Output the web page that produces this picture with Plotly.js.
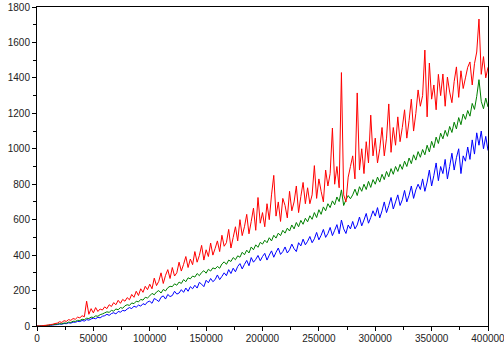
<!DOCTYPE html>
<html>
<head>
<meta charset="utf-8">
<script src="https://cdn.plot.ly/plotly-3.0.1.min.js"></script>
<style>
  html, body { margin: 0; padding: 0; background: #ffffff; }
  #chart { width: 504px; height: 344px; }
</style>
</head>
<body>
<div id="chart"></div>
<script>
// x grid: samples every 2000, starting at 0
const xStart = 0;
const xStep = 2000;

const blueValues = [
  0,0,1,1,2,3,4,6,7,8,
  11,10,14,13,18,16,22,21,26,25,
  31,28,36,33,40,44,41,49,46,55,
  58,66,60,70,75,68,82,78,88,85,
  96,104,98,112,106,118,112,126,120,136,
  140,128,155,148,138,162,170,152,178,166,
  172,196,180,186,205,190,214,196,222,210,
  230,214,246,236,222,258,244,268,250,262,
  288,262,280,300,284,318,296,326,306,336,
  352,322,348,370,340,386,360,376,398,368,
  392,410,372,400,424,388,416,440,404,420,
  446,412,430,462,436,420,470,452,490,458,
  478,505,470,492,528,486,512,545,500,522,
  556,510,540,572,520,598,548,522,570,548,
  590,548,570,615,565,598,635,580,612,650,
  620,668,610,650,700,640,680,725,660,700,
  740,680,712,765,700,738,790,720,768,800,
  770,830,760,812,880,790,850,920,820,900,
  860,940,830,900,975,880,950,1000,860,960,
  930,1010,940,1050,970,1090,1020,1100,1000,1070,990
];

const greenValues = [
  0,0,1,2,3,4,6,7,9,11,
  13,12,17,16,22,20,27,26,32,31,
  38,36,44,42,50,48,57,55,64,68,
  74,80,77,88,84,96,92,104,100,114,
  120,116,130,126,140,136,150,146,162,158,
  170,184,176,192,200,186,206,198,216,224,
  222,238,230,248,240,262,250,272,266,282,
  276,296,284,302,312,298,320,310,328,322,
  336,326,350,362,348,372,364,386,374,396,
  388,416,402,428,412,446,430,458,444,472,
  462,484,470,498,480,512,496,524,510,540,
  524,552,536,570,548,584,560,596,574,608,
  588,622,602,640,612,656,630,672,650,690,
  668,706,684,728,702,768,680,712,736,718,
  740,772,736,786,760,800,770,816,782,826,
  800,840,812,856,826,872,842,888,856,900,
  872,912,884,930,900,948,916,966,936,984,
  952,996,966,1020,982,1042,1006,1066,1030,1088,
  1056,1104,1070,1126,1092,1150,1112,1176,1136,1196,
  1166,1216,1184,1256,1222,1296,1390,1268,1226,1286,1236
];

const redValues = [
  0,0,1,3,4,6,8,10,14,16,
  24,20,30,26,36,32,42,38,50,46,
  58,52,140,66,98,74,104,82,96,90,
  108,98,120,110,132,120,145,128,150,140,
  160,148,178,162,196,172,210,190,224,205,
  236,210,270,228,252,300,240,286,318,268,
  330,282,300,360,310,348,392,330,378,346,
  420,360,398,455,372,430,392,468,400,438,
  480,420,512,450,470,545,440,500,560,480,
  600,510,560,630,520,590,665,540,725,580,
  640,560,690,600,740,850,620,700,590,720,
  680,610,760,650,700,790,640,730,810,690,
  780,690,740,905,720,830,760,700,880,790,
  860,1117,800,900,780,1430,740,700,840,900,
  960,830,1315,880,1000,860,1040,920,1190,960,
  1060,920,1000,1120,960,1060,1253,980,1120,1020,
  1180,1040,1120,1220,1060,1160,1280,1100,1200,1332,
  1240,1300,1557,1180,1484,1280,1360,1220,1420,1300,
  1422,1240,1405,1320,1260,1380,1462,1290,1440,1340,
  1400,1460,1490,1360,1480,1546,1732,1420,1520,1400,1460
];

const seriesColors = ['#0000ff', '#008000', '#ff0000'];
const seriesData = [blueValues, greenValues, redValues];

const traces = seriesData.map((vals, i) => ({
  type: 'scatter',
  mode: 'lines',
  x0: xStart,
  dx: xStep,
  y: vals,
  line: { color: seriesColors[i], width: 1, simplify: false },
  hoverinfo: 'skip',
  showlegend: false
}));

const axisCommon = {
  showgrid: false,
  zeroline: false,
  showline: true,
  linecolor: '#000000',
  linewidth: 1,
  mirror: true,
  ticks: 'outside',
  ticklen: 4,
  tickwidth: 1,
  tickcolor: '#000000',
  tickfont: { family: 'Liberation Sans, Arial, sans-serif', size: 10, color: '#222222' },
  tickformat: 'd',
  ticklabeloverflow: 'allow'
};

const layout = {
  width: 504,
  height: 344,
  margin: { l: 37, r: 16, t: 7, b: 18 },
  paper_bgcolor: '#ffffff',
  plot_bgcolor: '#ffffff',
  xaxis: Object.assign({}, axisCommon, {
    range: [0, 400000],
    tick0: 0,
    dtick: 50000,
    ticklabelstandoff: -1,
    minor: { dtick: 25000, ticks: 'outside', ticklen: 3, tickcolor: '#000000', showgrid: false }
  }),
  yaxis: Object.assign({}, axisCommon, {
    range: [0, 1800],
    tick0: 0,
    dtick: 200,
    minor: { dtick: 100, ticks: 'outside', ticklen: 3, tickcolor: '#000000', showgrid: false }
  })
};

Plotly.newPlot('chart', traces, layout, { staticPlot: true, displayModeBar: false });
</script>
</body>
</html>
